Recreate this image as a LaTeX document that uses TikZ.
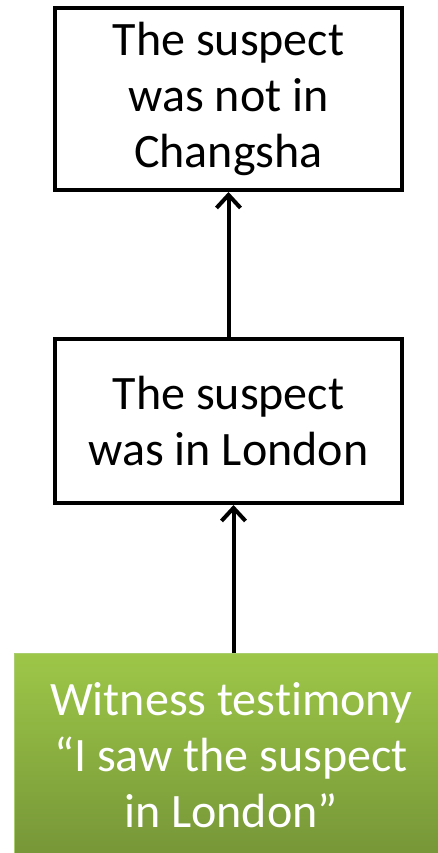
\documentclass[tikz,border=0pt]{standalone}
\usepackage{fontspec}
\setmainfont[Ligatures=NoCommon]{Carlito}
\usetikzlibrary{arrows.meta,shadows}
\definecolor{gtop}{RGB}{157,199,72}
\definecolor{gbot}{RGB}{117,148,55}
\definecolor{gline}{RGB}{170,205,110}
\tikzset{
  claim/.style={draw=black, line width=4pt, fill=white, minimum width=347pt, minimum height=182pt,
    align=center, font=\fontsize{48}{56}\selectfont, inner sep=0pt,
    drop shadow={shadow xshift=2pt, shadow yshift=-2pt, opacity=0.25}},
  evid/.style={draw=gline, line width=1pt, top color=gtop, bottom color=gbot, text=white,
    minimum width=432pt, minimum height=210pt, align=center,
    font=\fontsize{48}{56}\selectfont, inner sep=0pt},
  arr/.style={line width=4pt, -{Straight Barb[length=13pt,width=24pt,line width=4pt]}}
}
\begin{document}
\begin{tikzpicture}[x=1pt,y=-1pt]
\useasboundingbox (0,0) rectangle (438,853);
\clip (0,0) rectangle (438,853);
\node[claim] (top) at (228.5,99) {The suspect\\was not in\\Changsha};
\node[claim, minimum height=164pt] (mid) at (228.5,421) {The suspect\\was in London};
\node[evid, anchor=north west] (wit) at (14,653) {};
\node[font=\fontsize{48}{56}\selectfont, text=white, align=center] (wtext) at (231,755) {Witness test\kern0pt{}imony\\“I saw the suspect\\in London”};
\draw[arr] (mid.north) -- (top.south);
\draw[arr] ([xshift=5pt]wit.north -| mid.south) -- ([xshift=5pt]mid.south);
\end{tikzpicture}
\end{document}
